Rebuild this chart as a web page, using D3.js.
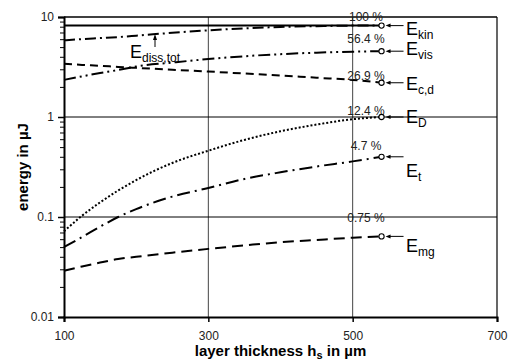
<!DOCTYPE html>
<html><head><meta charset="utf-8">
<script src="https://cdn.jsdelivr.net/npm/d3@7"></script>
<style>
body{margin:0;background:#fff;}
svg{display:block;font-family:Arial,"Liberation Sans",sans-serif;}
</style></head>
<body><svg id="c" width="510" height="362"></svg>
<script>
const hs = [100,125,150,175,200,250,300,350,400,450,500,540];
const Ekin  = [8.2,8.2,8.2,8.2,8.2,8.2,8.2,8.2,8.2,8.2,8.2,8.2];
const Ediss = [5.85,6.0,6.15,6.3,6.5,6.95,7.35,7.7,7.95,8.1,8.2,8.2];
const Evis  = [2.35,2.55,2.75,2.95,3.2,3.5,3.8,4.05,4.25,4.4,4.5,4.55];
const Ecd   = [3.4,3.32,3.25,3.17,3.1,2.97,2.85,2.72,2.6,2.47,2.35,2.2];
const ED    = [0.072,0.103,0.14,0.184,0.234,0.347,0.46,0.59,0.72,0.84,0.95,1.0];
const Et    = [0.05,0.063,0.08,0.1,0.12,0.16,0.195,0.24,0.28,0.32,0.36,0.4];
const Emg   = [0.029,0.032,0.035,0.038,0.04,0.044,0.048,0.052,0.056,0.059,0.062,0.064];
const xTicks = [100,300,500,700];
const yTicks = [0.01,0.1,1,10];
const yTickLabels = ["0.01","0.1","1","10"];
const pctLabels = ["100 %","56.4 %","26.9 %","12.4 %","4.7 %","0.75 %"];

const svg = d3.select("#c");
const L=64,R=497,T=17,B=317;
const x = d3.scaleLinear().domain([100,700]).range([L,R]);
const y = d3.scaleLog().domain([0.01,10]).range([B,T]);

// gridlines
svg.append("g").selectAll("line").data([300,500]).join("line")
  .attr("x1",d=>x(d)).attr("x2",d=>x(d)).attr("y1",T).attr("y2",B)
  .attr("stroke","#444").attr("stroke-width",1);
svg.append("g").selectAll("line").data([0.1,1]).join("line")
  .attr("x1",L).attr("x2",R).attr("y1",d=>y(d)).attr("y2",d=>y(d))
  .attr("stroke","#000").attr("stroke-width",1);
// frame
svg.append("line").attr("x1",L).attr("x2",R).attr("y1",T).attr("y2",T).attr("stroke","#000").attr("stroke-width",1.5);
svg.append("line").attr("x1",R).attr("x2",R).attr("y1",T).attr("y2",B).attr("stroke","#000").attr("stroke-width",1.2);

// axes
const minor=[];
for (let e=-2;e<1;e++) for (let k=2;k<10;k++) minor.push(k*Math.pow(10,e));
const yAxisMinor = d3.axisLeft(y).tickValues(minor).tickSize(4).tickFormat("");
const gmin = svg.append("g").attr("transform",`translate(${L},0)`).call(yAxisMinor);
gmin.select(".domain").remove();
gmin.selectAll("line").attr("stroke","#000").attr("stroke-width",1);

const yAxis = d3.axisLeft(y).tickValues(yTicks).tickSize(6).tickPadding(4)
  .tickFormat((d,i)=>yTickLabels[i]);
const gy = svg.append("g").attr("transform",`translate(${L},0)`).call(yAxis);
gy.select(".domain").attr("stroke","#000").attr("stroke-width",2);
gy.selectAll("line").attr("stroke","#000").attr("stroke-width",1.5);
gy.selectAll("text").attr("font-size",12).attr("fill","#222").attr("font-family","Arial, Liberation Sans, sans-serif");

const xAxis = d3.axisBottom(x).tickValues(xTicks).tickSize(5).tickPadding(9).tickFormat(d3.format("d"));
const gx = svg.append("g").attr("transform",`translate(0,${B})`).call(xAxis);
gx.select(".domain").attr("stroke","#000").attr("stroke-width",2);
gx.selectAll("line").attr("stroke","#000").attr("stroke-width",1.5);
gx.selectAll("text").attr("font-size",12).attr("fill","#222").attr("font-family","Arial, Liberation Sans, sans-serif");

// axis titles
const xt = svg.append("text").attr("x",(L+R)/2).attr("y",356).attr("text-anchor","middle")
  .attr("font-size",15).attr("font-weight","bold").attr("fill","#000");
xt.append("tspan").text("layer thickness h");
xt.append("tspan").attr("font-size",11).attr("dy",3).text("s");
xt.append("tspan").attr("dy",-3).text(" in µm");
svg.append("text").attr("transform",`translate(28,${(T+B)/2}) rotate(-90)`).attr("text-anchor","middle")
  .attr("font-size",15).attr("font-weight","bold").attr("fill","#000").text("energy in µJ");

// series
const series = [
  {v:Ekin, dash:null, w:2},
  {v:Ediss, dash:"11,4,2,4", w:2},
  {v:Evis, dash:"12,4,2,4,2,4", w:2},
  {v:Ecd, dash:"8,5", w:2},
  {v:ED, dash:"2,2", w:2},
  {v:Et, dash:"13,5,2,5", w:2},
  {v:Emg, dash:"11,6", w:2}
];
const line = d3.line().x((d,i)=>x(hs[i])).y(d=>y(d)).curve(d3.curveMonotoneX);
svg.append("g").selectAll("path").data(series).join("path")
  .attr("d",d=>line(d.v)).attr("fill","none").attr("stroke","#000")
  .attr("stroke-width",d=>d.w).attr("stroke-dasharray",d=>d.dash);

// endpoints, arrows, labels
const ends = [
  {v:Ekin, pct:pctLabels[0], py:21, sub:"kin", ly:35},
  {v:Evis, pct:pctLabels[1], py:43, sub:"vis", ly:55},
  {v:Ecd,  pct:pctLabels[2], py:80, sub:"c,d", ly:90},
  {v:ED,   pct:pctLabels[3], py:115, sub:"D", ly:123},
  {v:Et,   pct:pctLabels[4], py:150, sub:"t", ly:177},
  {v:Emg,  pct:pctLabels[5], py:222, sub:"mg", ly:252}
];
const last = hs.length-1;
ends.forEach(e=>{
  const cx = x(hs[last]), cy = y(e.v[last]);
  svg.append("text").attr("x",366).attr("y",e.py).attr("text-anchor","middle")
    .attr("font-size",12).attr("fill","#222").text(e.pct);
  const ax = cx+4;
  svg.append("line").attr("x1",ax+3).attr("x2",cx+22).attr("y1",cy).attr("y2",cy)
    .attr("stroke","#000").attr("stroke-width",1);
  svg.append("path").attr("d",`M${ax},${cy} L${ax+5},${cy-2} L${ax+5},${cy+2} Z`).attr("fill","#000");
  svg.append("circle").attr("cx",cx).attr("cy",cy).attr("r",2.6)
    .attr("fill","#fff").attr("stroke","#000").attr("stroke-width",1.1);
  const t = svg.append("text").attr("x",406).attr("y",e.ly).attr("font-size",18).attr("fill","#000");
  t.append("tspan").text("E");
  t.append("tspan").attr("font-size",12).attr("dy",4).text(e.sub);
});
// E_diss,tot
const dt = svg.append("text").attr("x",130).attr("y",58).attr("font-size",18).attr("fill","#000");
dt.append("tspan").text("E");
dt.append("tspan").attr("font-size",12).attr("dy",4).text("diss,tot");
svg.append("line").attr("x1",155).attr("x2",155).attr("y1",47).attr("y2",38)
  .attr("stroke","#000").attr("stroke-width",1);
svg.append("path").attr("d","M155,34 L153,40 L157,40 Z").attr("fill","#000");
</script></body></html>
